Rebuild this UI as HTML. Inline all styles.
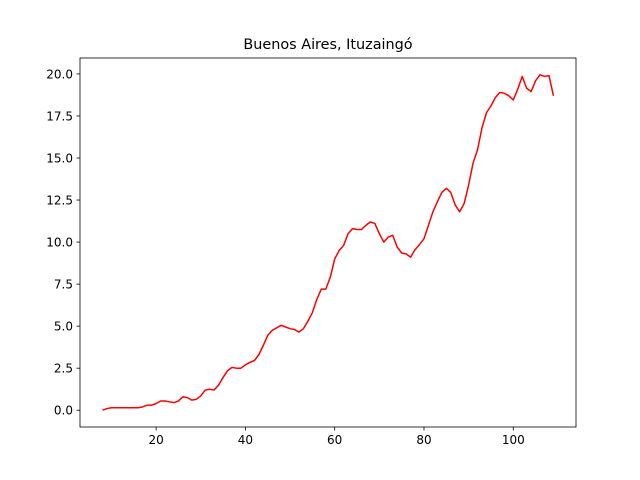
<!DOCTYPE html>
<html><head><meta charset="utf-8"><style>body{margin:0;background:#fff}svg{display:block;font-family:"DejaVu Sans","Liberation Sans",sans-serif}</style></head>
<body>
<svg id="c" width="640" height="480" viewBox="0 0 640 480">
<rect width="640" height="480" fill="#fff"/>
<text x="328" y="49" text-anchor="middle" font-size="14.4">Buenos Aires, Ituzaingó</text>
<g id="axes"></g>
<rect x="80" y="58" width="496" height="369" fill="none" stroke="#000" stroke-width="0.8"/>
</svg>
<script>
const xs = [];
for (let i = 8; i <= 109; i++) xs.push(i);
const values = [0.0,0.1,0.15,0.15,0.15,0.15,0.15,0.15,0.15,0.2,0.3,0.3,0.4,0.55,0.55,0.5,0.45,0.55,0.8,0.75,0.6,0.65,0.85,1.2,1.25,1.2,1.5,1.95,2.35,2.55,2.5,2.5,2.7,2.85,2.95,3.3,3.85,4.45,4.75,4.9,5.05,4.95,4.85,4.8,4.65,4.85,5.3,5.8,6.6,7.2,7.2,7.9,9.0,9.5,9.8,10.5,10.8,10.75,10.75,11.0,11.2,11.1,10.5,10.0,10.3,10.4,9.7,9.35,9.3,9.1,9.55,9.85,10.2,11.0,11.8,12.4,12.95,13.2,12.95,12.2,11.8,12.3,13.4,14.7,15.5,16.8,17.7,18.1,18.6,18.9,18.85,18.7,18.45,19.1,19.85,19.15,18.95,19.6,19.95,19.85,19.9,18.7];
const xTicks = [20,40,60,80,100];
const yTicks = [0,2.5,5,7.5,10,12.5,15,17.5,20];
const yTickLabels = ["0.0","2.5","5.0","7.5","10.0","12.5","15.0","17.5","20.0"];

const L=80,R=576,T=58,B=427;
const xmin=Math.min(...xs),xmax=Math.max(...xs),xm=(xmax-xmin)*0.05;
const ymin=Math.min(...values),ymax=Math.max(...values),ym=(ymax-ymin)*0.05;
const sx=v=>L+(v-(xmin-xm))/((xmax+xm)-(xmin-xm))*(R-L);
const sy=v=>B-(v-(ymin-ym))/((ymax+ym)-(ymin-ym))*(B-T);
const NS="http://www.w3.org/2000/svg";
const g=document.getElementById('axes');
function mk(t,a){const e=document.createElementNS(NS,t);for(const k in a)e.setAttribute(k,a[k]);return e;}
xTicks.forEach(v=>{
  const x=sx(v);
  const tk=mk('line',{x1:x,x2:x,y1:B,y2:B+3.5,stroke:'#000','stroke-width':0.8});
  
  
  g.appendChild(tk);
  const tx=mk('text',{x:x,y:B+17,'text-anchor':'middle','font-size':12});
  
  
  tx.textContent=v;g.appendChild(tx);
});
yTicks.forEach((v,i)=>{
  const y=sy(v);
  const tk=mk('line',{x1:L-3.5,x2:L,y1:y,y2:y,stroke:'#000','stroke-width':0.8});
  
  
  g.appendChild(tk);
  const tx=mk('text',{x:L-7,y:y+4.5,'text-anchor':'end','font-size':12});
  
  
  tx.textContent=yTickLabels[i];g.appendChild(tx);
});
const pts=xs.map((x,i)=>sx(x).toFixed(2)+','+sy(values[i]).toFixed(2)).join(' ');
const pl=mk('polyline',{points:pts,fill:'none',stroke:'#ff0000','stroke-width':1.5,'stroke-linejoin':'round'});


g.appendChild(pl);
</script>
</body></html>
